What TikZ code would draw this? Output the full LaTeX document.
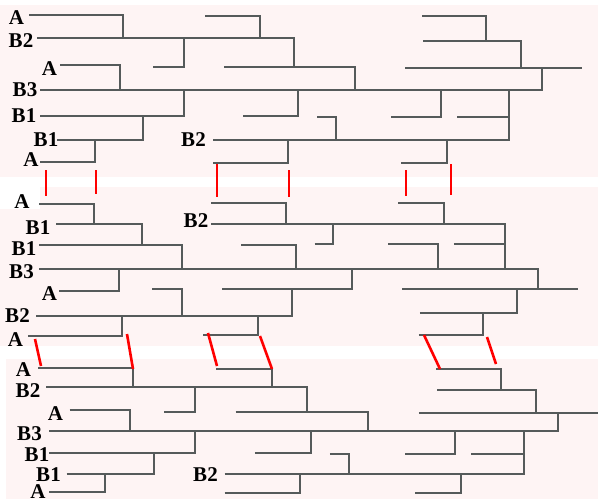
\documentclass[tikz,border=0pt]{standalone}
\usepackage{fontspec}
\setmainfont{Liberation Serif}
\newfontfamily\labfont{Liberation Serif Bold}
\definecolor{linegrey}{RGB}{85,90,90}
\definecolor{panelpink}{RGB}{254,244,244}
\definecolor{markred}{RGB}{255,0,0}
\newcommand\treepaths{%
\draw[tl] (29,15) -- (123,15) -- (123,38);
\draw[tl] (37,38) -- (294,38) -- (294,67);
\draw[tl] (205,16) -- (260,16) -- (260,38);
\draw[tl] (184,38) -- (184,67) -- (153,67);
\draw[tl] (224,67) -- (355,67) -- (355,90);
\draw[tl] (60,65) -- (120,65) -- (120,90);
\draw[tl] (40,90) -- (542,90) -- (542,68);
\draw[tl] (405,68) -- (582,68);
\draw[tl] (422,16) -- (486,16) -- (486,41);
\draw[tl] (423,41) -- (521,41) -- (521,68);
\draw[tl] (184,90) -- (184,116) -- (40,116);
\draw[tl] (441,90) -- (441,117) -- (391,117);
\draw[tl] (457,117) -- (509,117);
\draw[tl] (509,90) -- (509,141);
\draw[tl] (243,116) -- (298,116) -- (298,90);
\draw[tl] (317,117) -- (336,117) -- (336,140);
\draw[tl] (213,140) -- (510,140);
\draw[tl] (447,140) -- (447,163) -- (401,163);
\draw[tl] (213,163) -- (288,163) -- (288,140);
\draw[tl] (57,140) -- (143,140) -- (143,116);
\draw[tl] (95,140) -- (95,162) -- (40,162);
}
\begin{document}
\begin{tikzpicture}[x=1pt,y=-1pt,
  tl/.style={line width=2pt, draw=linegrey},
  rl/.style={line width=2.6pt, draw=markred},
  lab/.style={font=\labfont\fontsize{21}{21}\selectfont, inner sep=0pt, text=black}]
\useasboundingbox (0,0) rectangle (598,499);
% panels
\fill[panelpink] (0,5) rectangle (598,177);
\fill[panelpink] (0,187) rectangle (598,346);
\fill[white] (0,187) rectangle (40,209);
\fill[panelpink] (6,359) rectangle (598,499);
% trees
\begin{scope}
\treepaths
\end{scope}
\begin{scope}[xshift=-0.5pt, yshift=-349.7pt, xscale=0.994, yscale=-0.9]
\treepaths
\end{scope}
\begin{scope}[xshift=9pt, yshift=-355.3pt, xscale=1.012, yscale=0.845]
\treepaths
\end{scope}
% red marks
\draw[rl] (46,170) -- (46,196);
\draw[rl] (96,170) -- (96,194);
\draw[rl] (217,164) -- (217,197);
\draw[rl] (289,170) -- (289,197);
\draw[rl] (406,170) -- (406,196);
\draw[rl] (451,164) -- (451,195);
\draw[rl] (35,339) -- (41,366);
\draw[rl] (127,334) -- (133,369);
\draw[rl] (208,333) -- (217,366);
\draw[rl] (260,336) -- (272,369);
\draw[rl] (424,335) -- (440,369);
\draw[rl] (487,337) -- (496,364);
% labels panel 1
\node[lab] (p1a1) at (16.5,17.5) {A};
\node[lab] (p1b2) at (21,41) {B2};
\node[lab] (p1a2) at (49.5,68.5) {A};
\node[lab] (p1b3) at (25,89.5) {B3};
\node[lab] (p1b1) at (24,115.5) {B1};
\node[lab] (p1b1b) at (46,140) {B1};
\node[lab] (p1a3) at (31,159.5) {A};
\node[lab] (p1b2b) at (193.5,139.5) {B2};
% labels panel 2
\node[lab] (p2a1) at (22,201.5) {A};
\node[lab] (p2b1) at (38,227.5) {B1};
\node[lab] (p2b1b) at (24,249) {B1};
\node[lab] (p2b3) at (21.5,272) {B3};
\node[lab] (p2a2) at (49.5,293.5) {A};
\node[lab] (p2b2) at (17.5,316) {B2};
\node[lab] (p2a3) at (15.5,340) {A};
\node[lab] (p2b2b) at (196,221) {B2};
% labels panel 3
\node[lab] (p3a1) at (23.5,370) {A};
\node[lab] (p3b2) at (28,391) {B2};
\node[lab] (p3a2) at (55.5,414) {A};
\node[lab] (p3b3) at (29.5,433.5) {B3};
\node[lab] (p3b1) at (37,455) {B1};
\node[lab] (p3b1b) at (48.5,475) {B1};
\node[lab] (p3a3) at (38,491.5) {A};
\node[lab] (p3b2b) at (205.5,475) {B2};
\end{tikzpicture}
\end{document}
